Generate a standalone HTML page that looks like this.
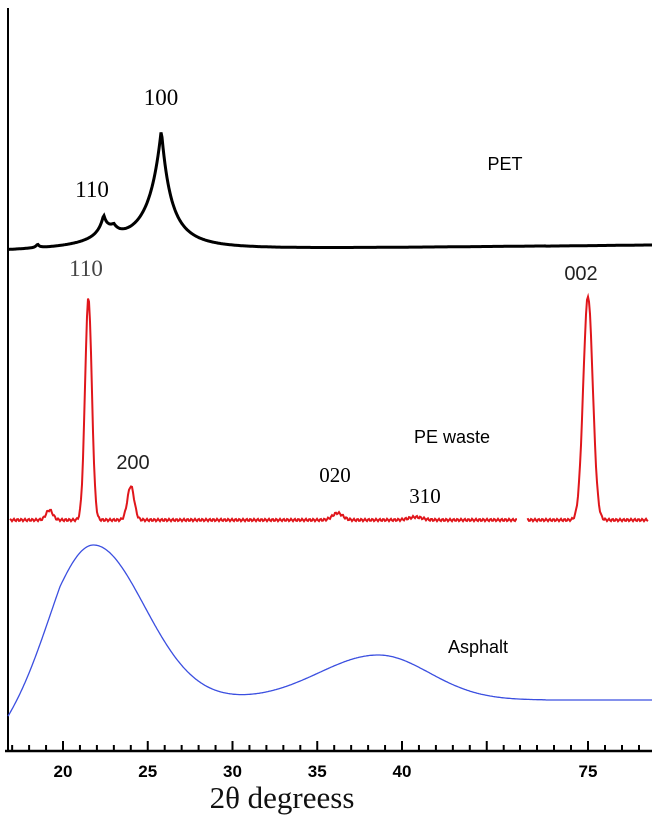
<!DOCTYPE html>
<html><head><meta charset="utf-8"><style>
body{margin:0;background:#fff;}
svg{display:block;}
.serif{font-family:"Liberation Serif",serif;}
.sans{font-family:"Liberation Sans",sans-serif;}
</style></head><body>
<svg id="chart" width="669" height="821" viewBox="0 0 669 821">
<g id="axes"></g>
<g id="series"></g>
<g id="labels">
<text class="serif" x="161" y="105" font-size="23" text-anchor="middle">100</text>
<text class="serif" x="92" y="197" font-size="23" text-anchor="middle">110</text>
<text class="serif" x="86" y="276" font-size="23" fill="#444" text-anchor="middle">110</text>
<text class="sans" x="505" y="170" font-size="18" text-anchor="middle">PET</text>
<text class="sans" x="581" y="280" font-size="20" fill="#222" text-anchor="middle">002</text>
<text class="sans" x="133" y="469" font-size="20" fill="#222" text-anchor="middle">200</text>
<text class="serif" x="335" y="482" font-size="21" text-anchor="middle">020</text>
<text class="serif" x="425" y="503" font-size="21" text-anchor="middle">310</text>
<text class="sans" x="452" y="443" font-size="18" text-anchor="middle">PE waste</text>
<text class="sans" x="478" y="653" font-size="18" text-anchor="middle">Asphalt</text>
<text class="serif" x="282" y="808" font-size="31" fill="#111" text-anchor="middle">2θ degreess</text>
</g>
</svg>
<script>
// data
const tickValues=[20,25,30,35,40,75];
const tickLabels=["20","25","30","35","40","75"];
// PET peaks: [2theta, height(px), left halfwidth, right halfwidth]
const petPeaks=[[25.8,120,1.0,0.8],[22.4,20,0.4,0.35],[23.0,12,1.6,0.6],[18.5,4,0.15,0.15]];
const petBase=[252,245];
// PE peaks gaussian [2theta, height, sigma]
const pePeaks=[[21.5,222,0.2],[24.0,34,0.2],[19.2,10,0.2],[36.2,7,0.3],[40.8,3,0.4],[75.0,224,0.28]];
const peBase=520;
// Asphalt humps [2theta, height, left sigma, right sigma]
const asphPeaks=[[21.8,155,2.5,3.0],[38.6,45,3.5,3.0]];
const asphBase=700;

const NS="http://www.w3.org/2000/svg";
function xs(v){ return v<=55 ? 63+(v-20)*16.95 : 588+(v-75)*17; }
function inv(x){return x<=545?20+(x-63)/16.95:75+(x-588)/17;}
function mk(t,a,p){const e=document.createElementNS(NS,t);for(const k in a)e.setAttribute(k,a[k]);p.appendChild(e);return e;}
const axes=document.getElementById('axes'),ser=document.getElementById('series');
let e=mk('line',{x1:8,y1:8,x2:8,y2:752,stroke:'#000','stroke-width':2},axes);

e=mk('line',{x1:5,y1:751,x2:652,y2:751,stroke:'#000','stroke-width':2.5},axes);

for(let v=17;v<=47;v++){const x=xs(v);if(x>505)break;const maj=v%5==0;
 e=mk('line',{x1:x,y1:751,x2:x,y2:maj?741:745,stroke:'#000','stroke-width':2},axes);
 }
for(let v=71;v<=78;v++){const x=xs(v);if(x>652)break;
 e=mk('line',{x1:x,y1:751,x2:x,y2:v==75?741:745,stroke:'#000','stroke-width':2},axes);
 }
tickValues.forEach((v,i)=>{e=mk('text',{x:xs(v),y:777,'font-size':17,'font-weight':'bold','text-anchor':'middle','font-family':'Liberation Sans, sans-serif'},axes);
 e.textContent=tickLabels[i];
 });
function pathFrom(pts){return pts.map((p,i)=>(i?'L':'M')+p[0].toFixed(1)+' '+p[1].toFixed(1)).join('');}
// PET
let pts=[];for(let x=8;x<=652;x+=1){const v=inv(x);let y=petBase[0]+(petBase[1]-petBase[0])*(x-8)/644;
 petPeaks.forEach(p=>{const w=v<p[0]?p[2]:p[3];y-=p[1]/(1+Math.abs((v-p[0])/w)*1.3+Math.pow((v-p[0])/w,2)*0.7);});pts.push([x,y]);}
e=mk('path',{d:pathFrom(pts),fill:'none',stroke:'#000','stroke-width':3},ser);

// PE (two segments)
[[10,517],[527,648]].forEach(([a,b])=>{let p2=[];for(let x=a;x<=b;x+=1){const v=inv(x);let y=peBase+Math.sin(x*1.7)*1.2;
 pePeaks.forEach(p=>{y-=p[1]*Math.exp(-Math.pow(v-p[0],2)/(2*p[2]*p[2]));});p2.push([x,y]);}
 e=mk('path',{d:pathFrom(p2),fill:'none',stroke:'#e0161b','stroke-width':2},ser);
 });
// Asphalt
pts=[];for(let x=8;x<=652;x+=1){const v=inv(x);let y=asphBase;
 asphPeaks.forEach(p=>{const w=v<p[0]?p[2]:p[3];y-=p[1]*Math.exp(-Math.pow(v-p[0],2)/(2*w*w));});
 if(x<60)y+=(60-x)*0.7;
 pts.push([x,y]);}
e=mk('path',{d:pathFrom(pts),fill:'none',stroke:'#3b4fe0','stroke-width':1.3},ser);

</script>
</body></html>
